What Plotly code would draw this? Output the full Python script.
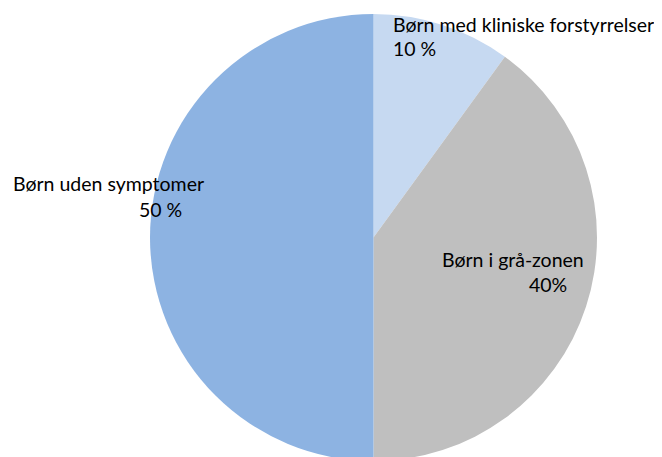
import plotly.graph_objects as go

categories = ["Børn med kliniske forstyrrelser", "Børn i grå-zonen", "Børn uden symptomer"]
values = [10, 40, 50]
value_labels = ["10 %", "40%", "50 %"]
colors = ["#C6D9F1", "#BFBFBF", "#8DB3E2"]

W, H = 662, 457
OFF = 8  # page body margin offset
FONT = "Lato"
FS = 19.5

# pie geometry in window pixels
cx, cy, r = 373.5, 237.5, 223.5
fx, fy = cx - OFF, cy - OFF

fig = go.Figure(go.Pie(
    labels=categories,
    values=values,
    sort=False,
    direction="clockwise",
    rotation=0,
    marker=dict(colors=colors, line=dict(width=0)),
    textinfo="none",
    hoverinfo="label+percent",
    showlegend=False,
    domain=dict(x=[(fx - r) / W, (fx + r) / W],
                y=[(H - (fy + r)) / H, (H - (fy - r)) / H]),
))

def ann(text, px, py, xanchor):
    fig.add_annotation(
        text=text, x=(px - OFF) / W, y=1 - (py - OFF) / H, xref="paper", yref="paper",
        xanchor=xanchor, yanchor="middle", showarrow=False,
        font=dict(family=FONT, size=FS, color="#000000"),
    )

# label positions (window pixels)
ann(categories[0], 391, 24, "left")
ann(value_labels[0], 391, 49, "left")
ann(categories[2], 11, 183, "left")
ann(value_labels[2], 184, 209, "right")
ann(categories[1], 440, 259, "left")
ann(value_labels[1], 569, 284, "right")

fig.update_layout(
    width=W, height=H,
    margin=dict(l=0, r=0, t=0, b=0),
    paper_bgcolor="white", plot_bgcolor="white",
)

fig.write_html("out.html")
